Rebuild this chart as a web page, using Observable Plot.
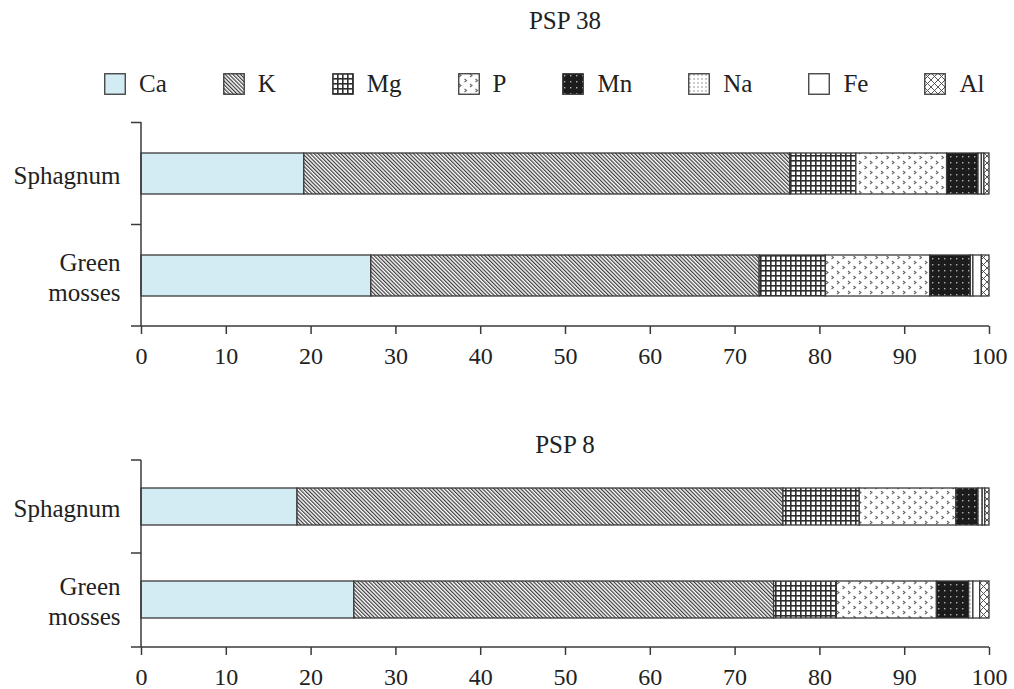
<!DOCTYPE html>
<html>
<head>
<meta charset="utf-8">
<script src="https://cdn.jsdelivr.net/npm/d3@7"></script>
<script src="https://cdn.jsdelivr.net/npm/@observablehq/plot@0.6"></script>
<style>
  html, body { margin: 0; padding: 0; background: #fff; }
  body { width: 1014px; height: 689px; overflow: hidden; font-family: 'Liberation Serif', serif; color: #222; }
  .title { width: 848px; padding-left: 141px; padding-right: 25px; text-align: center; font-size: 25px; font-family: 'Liberation Serif', serif; }
  #t1 { height: 42px; line-height: 42px; }
  #t2 { height: 30px; line-height: 30px; padding-top: 40px; }
  #legend { display: flex; align-items: center; height: 22px; margin-top: 31px; margin-bottom: 5px; padding-left: 104px; gap: 56px; font-size: 25px; font-family: 'Liberation Serif', serif; }
  .item { display: flex; align-items: center; gap: 13px; }
  .item svg { display: block; }
  #c2 { margin-top: -10px; }
  #c1 svg text, #c2 svg text { font-family: 'Liberation Serif', serif !important; }
</style>
</head>
<body>
<svg width="0" height="0" style="position:absolute">
  <defs>
    <pattern id="pK" patternUnits="userSpaceOnUse" width="2.7" height="10" patternTransform="rotate(-45)">
      <rect width="2.7" height="10" fill="#fff"/>
      <rect width="1.2" height="10" fill="#3a3a3a"/>
    </pattern>
    <pattern id="pMg" patternUnits="userSpaceOnUse" width="5" height="5">
      <rect width="5" height="5" fill="#fff"/>
      <rect width="1.6" height="5" fill="#2e2e2e"/>
      <rect width="5" height="1.6" fill="#2e2e2e"/>
    </pattern>
    <pattern id="pP" patternUnits="userSpaceOnUse" width="11" height="10">
      <rect width="11" height="10" fill="#fff"/>
      <path d="M1,1 L3,2.5 L1,4 M6.5,6 L8.5,7.5 L6.5,9" fill="none" stroke="#666" stroke-width="1.1"/>
    </pattern>
    <pattern id="pMn" patternUnits="userSpaceOnUse" width="6" height="6">
      <rect width="6" height="6" fill="#1c1c1c"/>
      <rect x="2" y="2" width="1.4" height="1.4" fill="#b0b0b0"/>
    </pattern>
    <pattern id="pNa" patternUnits="userSpaceOnUse" width="4" height="4">
      <rect width="4" height="4" fill="#fff"/>
      <rect x="1.5" y="1.5" width="1" height="1" fill="#333"/>
    </pattern>
    <pattern id="pAl" patternUnits="userSpaceOnUse" width="7" height="7">
      <rect width="7" height="7" fill="#fff"/>
      <path d="M0,0 L7,7 M7,0 L0,7" stroke="#444" stroke-width="0.9"/>
    </pattern>
  </defs>
</svg>
<div id="t1" class="title">PSP 38</div>
<div id="legend"></div>
<div id="c1"></div>
<div id="t2" class="title">PSP 8</div>
<div id="c2"></div>
<script>
// ---- data ----
const elements = ["Ca", "K", "Mg", "P", "Mn", "Na", "Fe", "Al"];
const groups = ["Sphagnum", "Green mosses"];
const groupLabels = ["Sphagnum", "Green\nmosses"];
const xTicks = [0, 10, 20, 30, 40, 50, 60, 70, 80, 90, 100];
// % of total, per element in the order above
const psp38Sphagnum = [19.2, 57.3, 7.8, 10.7, 3.7, 0.4, 0.3, 0.6];
const psp38Green    = [27.1, 45.8, 7.8, 12.3, 4.8, 0.3, 1.0, 0.9];
const psp8Sphagnum  = [18.4, 57.3, 9.0, 11.4, 2.6, 0.5, 0.3, 0.5];
const psp8Green     = [25.1, 49.5, 7.4, 11.8, 3.8, 0.5, 0.8, 1.1];

// ---- styles ----
const fills = ["#d3ebf2", "url(#pK)", "url(#pMg)", "url(#pP)", "url(#pMn)", "url(#pNa)", "#ffffff", "url(#pAl)"];
const ink = "#3a3a3a";
const labelSize = 25;
const tickSize = 24;

function table(sph, green) {
  const rows = [];
  groups.forEach((g, gi) => {
    const vals = gi === 0 ? sph : green;
    elements.forEach((e, i) => rows.push({group: g, element: e, value: vals[i]}));
  });
  return rows;
}

function axesLines(index, scales, values, dims) {
  const x = scales.x, y = scales.y;
  const top = dims.marginTop, bottom = dims.height - dims.marginBottom;
  const x0 = x(0), x1 = x(100);
  const step = typeof y.step === "function" ? y.step() : (bottom - top) / groups.length;
  const bw = typeof y.bandwidth === "function" ? y.bandwidth() : step * 0.4;
  const g = d3.create("svg:g").attr("stroke", ink).attr("stroke-width", 1.5).attr("fill", "none");
  g.append("line").attr("x1", x0).attr("x2", x0).attr("y1", top).attr("y2", bottom);
  g.append("line").attr("x1", x0 - 10).attr("x2", x1).attr("y1", bottom).attr("y2", bottom);
  groups.forEach(gr => {
    const yb = y(gr) - (step - bw) / 2;
    g.append("line").attr("x1", x0 - 10).attr("x2", x0).attr("y1", yb).attr("y2", yb);
  });
  return g.node();
}

function chart(data, height, marginTop, marginBottom) {
  return Plot.plot({
    width: 1014,
    height,
    marginLeft: 141,
    marginRight: 25,
    marginTop,
    marginBottom,
    style: "font-family: 'Liberation Serif', serif; font-size: 24px; color: #222; background: transparent;",
    x: {domain: [0, 100]},
    y: {domain: groups, paddingInner: 0.6, paddingOuter: 0.3},
    color: {type: "ordinal", domain: elements, range: fills},
    marks: [
      Plot.barX(data, Plot.stackX({x: "value", y: "group", fill: "element", stroke: ink, strokeWidth: 1.3, order: null})),
      axesLines,
      Plot.axisX({ticks: xTicks, tickSize: 8, tickPadding: 12, stroke: ink, strokeWidth: 1.5, label: null, fontSize: tickSize, fill: "#222"}),
      Plot.axisY({tickSize: 0, tickPadding: 21, label: null, fontSize: labelSize, lineHeight: 1.2,
        tickFormat: d => groupLabels[groups.indexOf(d)], fill: "#222"})
    ]
  });
}

document.getElementById("c1").append(chart(table(psp38Sphagnum, psp38Green), 290, 22, 64));
document.getElementById("c2").append(chart(table(psp8Sphagnum, psp8Green), 239, 10, 42));

// legend
const legend = d3.select("#legend");
elements.forEach((e, i) => {
  const it = legend.append("div").attr("class", "item");
  const s = it.append("svg").attr("width", 22).attr("height", 22);
  s.append("rect").attr("x", 0.75).attr("y", 0.75).attr("width", 20.5).attr("height", 20.5)
    .attr("fill", fills[i]).attr("stroke", ink).attr("stroke-width", 1.3);
  it.append("span").text(e);
});
</script>
</body>
</html>
